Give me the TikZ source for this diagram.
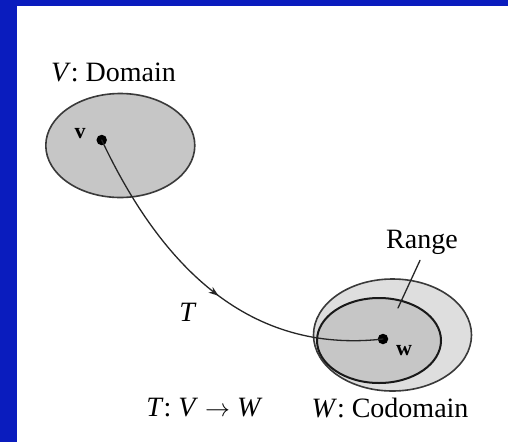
\documentclass[tikz,border=0pt]{standalone}
\usepackage{fontspec}
\setmainfont{Liberation Serif}
\usetikzlibrary{arrows.meta,decorations.markings,positioning}
\definecolor{frameblue}{HTML}{0A1CBE}
\definecolor{setdark}{HTML}{C6C6C6}
\definecolor{setlight}{HTML}{DEDEDE}
\definecolor{setedge}{HTML}{3A3A3A}
\tikzset{
  setlabel/.style={font=\fontsize{28}{32}\selectfont,inner sep=0pt},
  ptlabel/.style={font=\fontsize{22}{26}\selectfont\bfseries,inner sep=0pt},
  pointdot/.style={circle,fill=black,inner sep=0pt,minimum size=10.5pt},
  mapcurve/.style={line width=1.3pt,draw=black!85,
    postaction={decorate},decoration={markings,
      mark=at position 0.53 with {\arrow{Stealth[length=10pt,width=7pt]}}}}
}
\begin{document}
\begin{tikzpicture}[x=1pt,y=-1pt,line cap=round,line join=round]
  \path[use as bounding box] (0,0) rectangle (508,442);
  % frame: blue band on top and left
  \fill[frameblue] (0,0) rectangle (508,442);
  \fill[white] (17,6) rectangle (508,442);
  % domain V
  \filldraw[fill=setdark,draw=setedge,line width=1.6pt]
    (120.3,145.5) ellipse [x radius=74.5,y radius=52];
  \node[setlabel] (domlab) at (113.5,72) {\textit{V}: Domain};
  % codomain W and range
  \filldraw[fill=setlight,draw=setedge,line width=1.6pt]
    (392.5,335) ellipse [x radius=79,y radius=56];
  \filldraw[fill=setdark,draw=black!90,line width=2pt]
    (379,340.5) ellipse [x radius=62,y radius=42.5];
  \node[setlabel] (codlab) at (390,408) {\textit{W}: Codomain};
  \node[setlabel] (ranlab) at (422,242) {Range};
  \coordinate (ranpt) at (398,308);
  \draw[line width=1.3pt,black!85] (ranlab.south) ++(-2,6) -- (ranpt);
  % points and map
  \node[pointdot] (v) at (101.7,140) {};
  \node[pointdot] (w) at (383,339) {};
  \node[ptlabel] (vlab) at (80,134) {v};
  \node[ptlabel] (wlab) at (404,351) {w};
  \draw[mapcurve] (v.center) .. controls (162,268) and (250,354) .. (w.center);
  \node[setlabel] (maplab) at (188,312) {\textit{T}};
  \node[setlabel] (maptype) at (204.5,408) {\textit{T}: \textit{V} $\rightarrow$ \textit{W}};
\end{tikzpicture}
\end{document}
